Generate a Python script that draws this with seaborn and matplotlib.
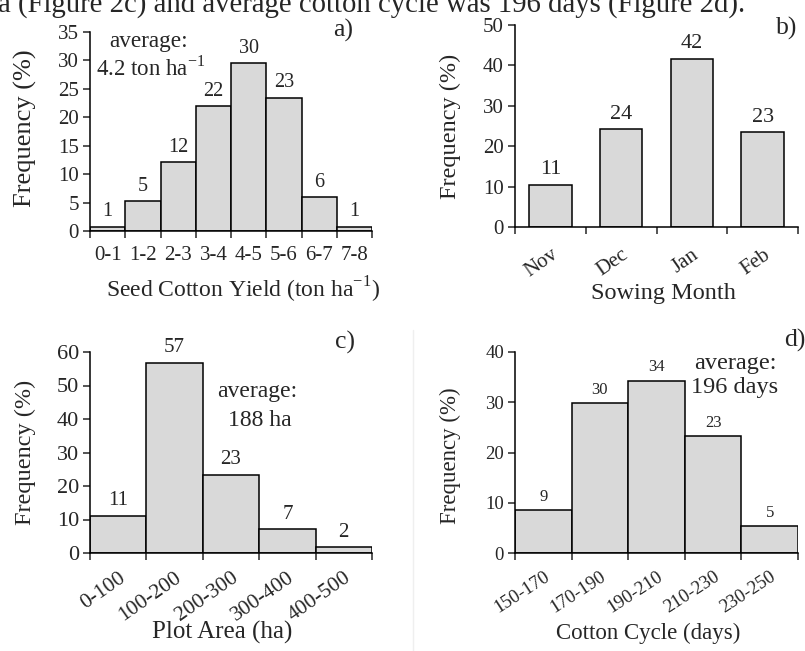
import matplotlib
matplotlib.use("Agg")
import matplotlib.pyplot as plt
import numpy as np
import seaborn as sns
from matplotlib.lines import Line2D

# ---- data ----
yield_cats = ["0-1", "1-2", "2-3", "3-4", "4-5", "5-6", "6-7", "7-8"]
yield_freq = [0.7, 5.2, 12.1, 21.9, 29.5, 23.4, 5.9, 0.7]
yield_lbls = ["1", "5", "12", "22", "30", "23", "6", "1"]

month_cats = ["Nov", "Dec", "Jan", "Feb"]
month_freq = [10.5, 24.2, 41.7, 23.5]
month_lbls = ["11", "24", "42", "23"]

area_cats = ["0-100", "100-200", "200-300", "300-400", "400-500"]
area_freq = [11.1, 56.7, 23.3, 7.1, 1.7]
area_lbls = ["11", "57", "23", "7", "2"]

cycle_cats = ["150-170", "170-190", "190-210", "210-230", "230-250"]
cycle_freq = [8.5, 29.8, 34.3, 23.2, 5.3]
cycle_lbls = ["9", "30", "34", "23", "5"]

sns.set_style("ticks")
plt.rcParams["font.family"] = ["Liberation Serif", "DejaVu Serif"]
plt.rcParams["mathtext.fontset"] = "custom"
plt.rcParams["mathtext.rm"] = "Liberation Serif"

W, H = 805, 651
BAR = "#d9d9d9"

fig = plt.figure(figsize=(W / 100, H / 100), dpi=100)


def px_axes(l, t, r, b):
    return fig.add_axes([l / W, 1 - b / H, (r - l) / W, (b - t) / H])


def ftext(x, y, s, **kw):
    fig.text(x / W, 1 - y / H, s, **kw)


def draw(ax, cats, vals, lbls, width, ymax, ystep, rot, xt_fs, yt_fs, lab_fs, pad):
    sns.barplot(x=cats, y=vals, color=BAR, saturation=1, width=width,
                edgecolor="black", linewidth=1.1, ax=ax)
    n = len(cats)
    ax.set_xlim(-0.5, n - 0.5)
    ax.set_ylim(0, ymax)
    ax.set_yticks(np.arange(0, ymax + 0.1, ystep))
    ax.set_xticks(np.arange(n + 1) - 0.5)
    ax.set_xticklabels([])
    ax.set_xticks(np.arange(n), minor=True)
    if rot:
        ax.set_xticklabels(cats, minor=True, rotation=rot, ha="right",
                           rotation_mode="anchor", fontsize=xt_fs)
    else:
        ax.set_xticklabels(cats, minor=True, fontsize=xt_fs)
    ax.tick_params(axis="x", which="minor", length=0, pad=pad)
    ax.tick_params(axis="x", which="major", length=5, width=1.1, direction="out")
    ax.tick_params(axis="y", length=5, width=1.1, direction="out", labelsize=yt_fs, pad=3)
    for i, (v, t) in enumerate(zip(vals, lbls)):
        ax.annotate(t, (i, v), xytext=(0, 4), textcoords="offset points",
                    ha="center", va="bottom", fontsize=lab_fs)
    sns.despine(ax=ax)
    for s in ("left", "bottom"):
        ax.spines[s].set_linewidth(1.1)
        ax.spines[s].set_color("black")
    ax.set_xlabel("")
    ax.set_ylabel("")


# a) seed cotton yield
ax_a = px_axes(90, 32, 372, 231)
draw(ax_a, yield_cats, yield_freq, yield_lbls, 1.0, 35, 5, 0, 15, 15, 14.5, 11)
# b) sowing month
ax_b = px_axes(515, 25, 798, 227)
draw(ax_b, month_cats, month_freq, month_lbls, 0.6, 50, 10, 35, 15, 15, 16, 13)
# c) plot area
ax_c = px_axes(90, 352, 372, 553)
draw(ax_c, area_cats, area_freq, area_lbls, 1.0, 60, 10, 35, 15.5, 16, 15, 11)
# d) cotton cycle
ax_d = px_axes(515, 352, 798, 553)
draw(ax_d, cycle_cats, cycle_freq, cycle_lbls, 1.0, 40, 10, 33, 13.5, 13.5, 12, 11)

# axis titles
ftext(25, 128, "Frequency (%)", rotation=90, ha="center", va="center", fontsize=19)
ftext(450, 126, "Frequency (%)", rotation=90, ha="center", va="center", fontsize=17.5)
ftext(25, 452, "Frequency (%)", rotation=90, ha="center", va="center", fontsize=17.5)
ftext(450, 456, "Frequency (%)", rotation=90, ha="center", va="center", fontsize=16.5)
ftext(243, 290, "Seed Cotton Yield (ton ha$^{\\mathregular{-1}}$)", ha="center", va="center", fontsize=17)
ftext(663, 294, "Sowing Month", ha="center", va="center", fontsize=17.5)
ftext(222, 632, "Plot Area (ha)", ha="center", va="center", fontsize=18)
ftext(648, 633, "Cotton Cycle (days)", ha="center", va="center", fontsize=16.5)

# panel tags and averages
ftext(343, 30, "a)", ha="center", va="center", fontsize=18.5)
ftext(787, 28, "b)", ha="center", va="center", fontsize=18.5)
ftext(345, 342, "c)", ha="center", va="center", fontsize=18.5)
ftext(795, 340, "d)", ha="center", va="center", fontsize=18.5)
ftext(149, 42, "average:", ha="center", va="center", fontsize=16.7)
ftext(151, 68, "4.2 ton ha$^{\\mathregular{-1}}$", ha="center", va="center", fontsize=16.5)
ftext(257, 392, "average:", ha="center", va="center", fontsize=17)
ftext(260, 420, "188 ha", ha="center", va="center", fontsize=17)
ftext(735, 363, "average:", ha="center", va="center", fontsize=17.5)
ftext(735, 387, "196 days", ha="center", va="center", fontsize=17.5)

# cropped line of body text at the very top
top = fig.text(-2 / W, 1 - 12 / H,
               "a (Figure 2c) and average cotton cycle was 196 days (Figure 2d).",
               ha="left", va="baseline", fontsize=18)
fig.canvas.draw()
bb = top.get_window_extent()
top.set_fontsize(18 * 747 / bb.width)

# faint border of the inserted panel d
fig.add_artist(Line2D([413 / W, 413 / W], [0, 1 - 330 / H], color="#efefef", lw=1))

fig.savefig("out.png", dpi=100)
